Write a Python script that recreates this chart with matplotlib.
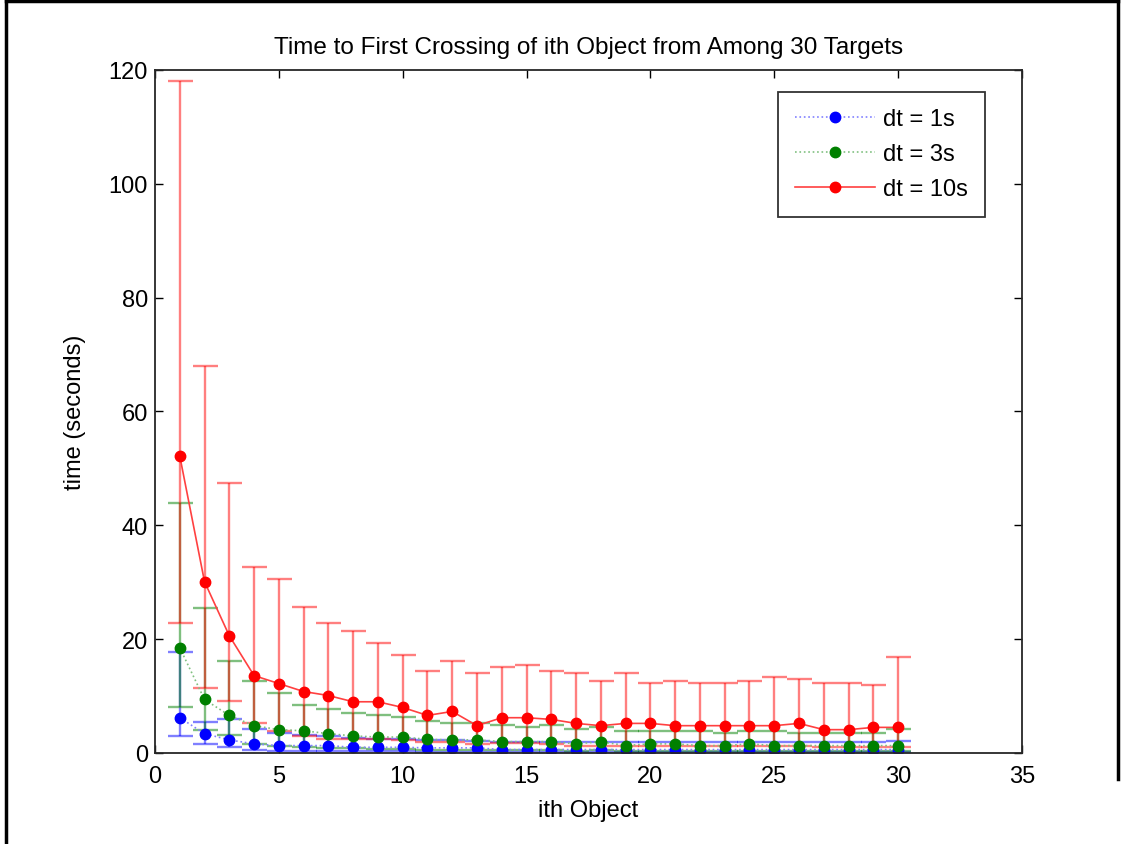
import matplotlib
matplotlib.use("Agg")
import matplotlib.pyplot as plt
from matplotlib.lines import Line2D

plt.rcParams['font.family'] = ['Liberation Sans', 'DejaVu Sans']

objects = list(range(1, 31))

mean_1s = [6.2, 3.4, 2.3, 1.6, 1.3, 1.3, 1.3, 1.0, 1.0, 1.0, 0.9, 0.9, 0.9, 0.6, 0.6,
           0.6, 0.6, 0.6, 0.6, 0.6, 0.6, 0.6, 0.6, 0.6, 0.6, 0.6, 0.6, 0.6, 0.6, 0.6]
upper_1s = [17.7, 5.5, 6.0, 4.3, 3.6, 3.2, 2.9, 2.6, 2.5, 2.4, 2.2, 2.2, 2.1, 2.0, 2.0,
            2.0, 2.0, 2.0, 2.0, 2.0, 2.0, 2.0, 2.0, 2.0, 2.0, 2.0, 2.0, 2.0, 2.0, 2.1]
lower_1s = [2.9, 1.5, 1.0, 0.6, 0.4, 0.4, 0.4, 0.3, 0.3, 0.3, 0.2, 0.2, 0.2, 0.2, 0.2,
            0.2, 0.2, 0.2, 0.2, 0.2, 0.2, 0.2, 0.2, 0.2, 0.2, 0.2, 0.2, 0.2, 0.2, 0.2]

mean_3s = [18.5, 9.4, 6.6, 4.8, 4.1, 3.9, 3.4, 3.0, 2.8, 2.8, 2.4, 2.3, 2.3, 2.0, 2.0,
           2.0, 1.6, 2.0, 1.3, 1.6, 1.6, 1.3, 1.3, 1.6, 1.3, 1.3, 1.3, 1.3, 1.3, 1.3]
upper_3s = [43.9, 25.4, 16.2, 12.7, 10.6, 8.5, 7.8, 7.1, 6.7, 6.4, 5.6, 5.3, 5.3, 4.9, 4.6,
            4.9, 4.2, 4.6, 3.9, 3.9, 3.9, 3.9, 3.5, 3.9, 3.9, 3.5, 3.5, 3.5, 3.5, 4.2]
lower_3s = [8.1, 4.0, 3.2, 1.5, 1.3, 1.0, 0.9, 0.8, 0.7, 0.7, 0.6, 0.6, 0.6, 0.5, 0.5,
            0.5, 0.4, 0.5, 0.3, 0.4, 0.4, 0.3, 0.3, 0.4, 0.3, 0.3, 0.3, 0.3, 0.3, 0.3]

mean_10s = [52.2, 30.1, 20.6, 13.6, 12.2, 10.8, 10.1, 9.0, 9.0, 8.0, 6.6, 7.3, 4.8, 6.2, 6.2,
            5.9, 5.2, 4.8, 5.2, 5.2, 4.8, 4.8, 4.8, 4.8, 4.8, 5.2, 4.1, 4.1, 4.5, 4.5]
upper_10s = [118.0, 68.0, 47.5, 32.7, 30.6, 25.7, 22.9, 21.5, 19.4, 17.3, 14.4, 16.2, 14.1, 15.1, 15.5,
             14.4, 14.1, 12.7, 14.1, 12.3, 12.7, 12.3, 12.3, 12.7, 13.4, 13.0, 12.3, 12.3, 11.9, 16.9]
lower_10s = [22.8, 11.4, 9.2, 5.3, 3.9, 2.9, 2.5, 2.5, 2.5, 2.2, 1.9, 2.0, 1.5, 1.7, 1.7,
             1.6, 1.3, 1.2, 1.3, 1.3, 1.2, 1.2, 1.2, 1.2, 1.2, 1.3, 1.0, 1.0, 1.1, 1.1]

labels = ['dt = 1s', 'dt = 3s', 'dt = 10s']
x_ticks = [0, 5, 10, 15, 20, 25, 30, 35]
y_ticks = [0, 20, 40, 60, 80, 100, 120]

series = [
    (mean_1s, lower_1s, upper_1s, '#0000ff', '#8080ff', ':'),
    (mean_3s, lower_3s, upper_3s, '#008000', '#80c080', ':'),
    (mean_10s, lower_10s, upper_10s, '#ff0000', '#ff4040', '-'),
]

FS = 17

fig = plt.figure(figsize=(11.23, 8.45), dpi=100)
ax = fig.add_axes([0.138, 0.1077, 0.772, 0.8083])

handles = []
for (m, lo, up, c, lc, ls), lab in zip(series, labels):
    yerr = [[mi - li for mi, li in zip(m, lo)], [ui - mi for mi, ui in zip(m, up)]]
    ax.errorbar(objects, m, yerr=yerr, fmt='none', ecolor=c, alpha=0.5,
                elinewidth=1.7, capsize=9, capthick=1.7)
for (m, lo, up, c, lc, ls), lab in zip(series, labels):
    h, = ax.plot(objects, m, linestyle=ls, color=lc, lw=1.2, marker='o',
                 markersize=7.5, markerfacecolor=c, markeredgecolor=c, label=lab)
    handles.append(h)

ax.set_xlim(0, 35)
ax.set_ylim(0, 120)
ax.set_xticks(x_ticks)
ax.set_yticks(y_ticks)
ax.tick_params(direction='in', top=True, right=True, labelsize=FS, length=6, width=1, pad=5)
ax.tick_params(axis='x', pad=9)
for s in ax.spines.values():
    s.set_linewidth(1.3)
    s.set_color('#262626')

ax.set_title('Time to First Crossing of ith Object from Among 30 Targets', fontsize=FS + 0.5, pad=12)
ax.set_xlabel('ith Object', fontsize=FS, labelpad=8)
ax.set_ylabel('time (seconds)', fontsize=FS, labelpad=16)

leg = ax.legend(handles=handles, loc='upper right', bbox_to_anchor=(0.957, 0.968),
                fontsize=FS, frameon=True, fancybox=False, edgecolor='black',
                handlelength=3.4, borderpad=0.7, labelspacing=0.55, handletextpad=0.35,
                borderaxespad=0.0)
leg.get_frame().set_linewidth(1.3)

W, H = 1123.0, 845.0
fig.add_artist(Line2D([6 / W, 6 / W], [0, 1 - 2 / H], transform=fig.transFigure, color='black', lw=2.5))
fig.add_artist(Line2D([6 / W, 1118 / W], [1 - 2 / H, 1 - 2 / H], transform=fig.transFigure, color='black', lw=2.5))
fig.add_artist(Line2D([1118 / W, 1118 / W], [1 - 2 / H, 1 - 780 / H], transform=fig.transFigure, color='black', lw=2.5))

fig.savefig('out.png', dpi=100)
